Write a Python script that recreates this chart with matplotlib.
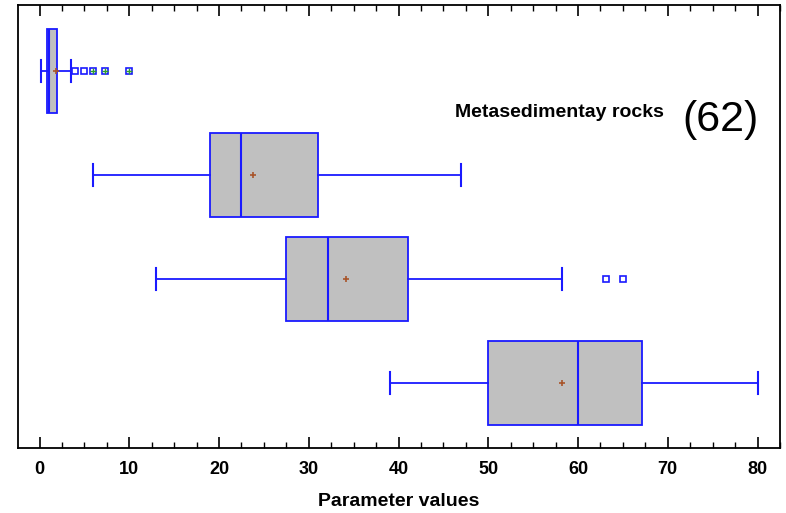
import matplotlib
matplotlib.use("Agg")
import matplotlib.pyplot as plt
from matplotlib.ticker import MultipleLocator
from matplotlib import font_manager

# ---- data (top to bottom) ----
whislo = [0.2, 6.0, 13.0, 39.0]
q1 = [0.8, 19.0, 27.5, 50.0]
med = [1.1, 22.5, 32.1, 60.0]
q3 = [2.0, 31.0, 41.0, 67.1]
whishi = [3.5, 47.0, 58.2, 80.0]
means = [1.8, 23.8, 34.2, 58.2]
outliers = [[4.0, 5.0, 6.0, 7.3, 10.0], [], [63.1, 65.0], []]
far_outliers = [[6.0, 7.3, 10.0], [], [], []]
xticks = [0, 10, 20, 30, 40, 50, 60, 70, 80]
xlabel = "Parameter values"
group_label = "Metasedimentay rocks"
count_label = "(62)"

names = {f.name for f in font_manager.fontManager.ttflist}
narrow = "Liberation Sans Narrow" if "Liberation Sans Narrow" in names else "Liberation Sans"

fig = plt.figure(figsize=(7.86, 5.13), dpi=100)
ax = fig.add_axes([18/786, 1-448/513, (780-18)/786, (448-5)/513])

n = len(med)
positions = [n - i for i in range(n)]
stats = []
for i in range(n):
    stats.append(dict(whislo=whislo[i], q1=q1[i], med=med[i], q3=q3[i],
                      whishi=whishi[i], mean=means[i], fliers=outliers[i]))

blue = "#1a1aff"
ax.bxp(stats, positions=positions, vert=False, widths=0.8, patch_artist=True,
       showmeans=True, showfliers=True,
       boxprops=dict(facecolor="#c0c0c0", edgecolor=blue, linewidth=1.3),
       medianprops=dict(color=blue, linewidth=1.5),
       whiskerprops=dict(color=blue, linewidth=1.3),
       capprops=dict(color=blue, linewidth=1.5),
       capwidths=0.22,
       meanprops=dict(marker="+", markeredgecolor="#a8552a", markersize=5, markeredgewidth=1.2),
       flierprops=dict(marker="s", markerfacecolor="white", markeredgecolor=blue,
                       markersize=4.5, markeredgewidth=1.2))

for i in range(n):
    if far_outliers[i]:
        ax.plot(far_outliers[i], [positions[i]] * len(far_outliers[i]), linestyle="none",
                marker="+", color="#2e9e2e", markersize=4, markeredgewidth=1.0, zorder=5)

ax.set_xlim(-2.4, 82.5)
ax.set_ylim(0.375, 4.635)
ax.set_yticks([])
ax.set_xticks(xticks)
ax.xaxis.set_minor_locator(MultipleLocator(2.5))
ax.tick_params(axis="x", which="major", direction="in", length=8, width=1.2, top=True,
               labelsize=13, pad=9)
ax.tick_params(axis="x", which="minor", direction="in", length=4, width=1.0, top=True)
for lab in ax.get_xticklabels():
    lab.set_fontfamily(narrow)
    lab.set_fontweight("bold")
for sp in ax.spines.values():
    sp.set_linewidth(1.3)

ax.set_xlabel(xlabel, fontsize=14, fontweight="bold", fontfamily=narrow, labelpad=11)

fig.text(682/786, 1-131/513, count_label, fontsize=31, fontfamily="Liberation Sans",
         ha="left", va="baseline")
fig.text(455/786, 1-117/513, group_label, fontsize=14, fontweight="bold",
         fontfamily=narrow, ha="left", va="baseline")

fig.savefig("out.png", dpi=100)
